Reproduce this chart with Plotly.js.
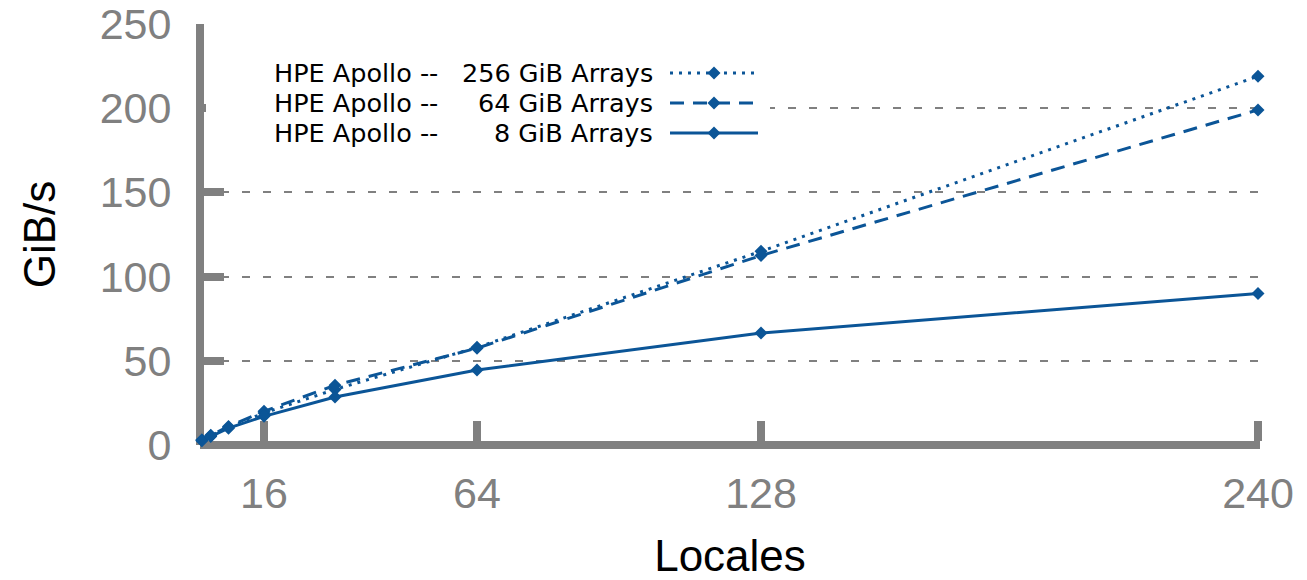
<!DOCTYPE html>
<html><head><meta charset="utf-8">
<script src="https://cdn.plot.ly/plotly-3.0.1.min.js"></script>
<style>html,body{margin:0;padding:0;background:#fff}#chart{width:1307px;height:580px}</style>
</head><body><div id="chart"></div>
<script>
// ---- data ----
const locales = [1, 2, 4, 8, 16, 32, 64, 128, 240];
const gib256 = [1.5, 3, 5.5, 10.5, 19, 33, 58, 115, 219];
const gib64  = [1.5, 3, 5.8, 11, 20, 35.5, 57.5, 112.5, 199];
const gib8   = [1.3, 2.5, 5, 10, 17, 28.5, 44.5, 66.5, 90];
const seriesNames = ['HPE Apollo -- 256 GiB Arrays', 'HPE Apollo --   64 GiB Arrays', 'HPE Apollo --     8 GiB Arrays'];
const legendLeft = ['HPE Apollo --', 'HPE Apollo --', 'HPE Apollo --'];
const legendRight = ['256 GiB Arrays', '64 GiB Arrays', '8 GiB Arrays'];
const xTicks = [16, 64, 128, 240];
const yTicks = [0, 50, 100, 150, 200, 250];
const xTitle = 'Locales';
const yTitle = 'GiB/s';

// ---- styles ----
const blue = '#0b5597';
const gray = '#808080';
const font = 'Liberation Sans, Arial, Helvetica, sans-serif';
const legendFont = 'DejaVu Sans, Liberation Sans, sans-serif';
const dashes = ['3px,6px', '14px,9px', 'solid'];
const values = [gib256, gib64, gib8];

const traces = values.map((v, i) => ({
  x: locales, y: v, name: seriesNames[i], type: 'scatter', mode: 'lines+markers',
  line: {color: blue, width: 3, dash: dashes[i]},
  marker: {symbol: 'diamond', size: 10, color: blue},
  cliponaxis: false, showlegend: false
}));

// legend drawn manually (text left, sample right)
const rowY = [49, 79, 109];   // px below plot top
const shapes = [{
  type: 'rect', xref: 'paper', yref: 'paper', xsizemode: 'pixel', ysizemode: 'pixel',
  xanchor: 0, yanchor: 1, x0: 6, x1: 570, y0: -31, y1: -128,
  fillcolor: '#ffffff', line: {width: 0}, layer: 'above'
}];
const annotations = [];
rowY.forEach((ry, i) => {
  shapes.push({
    type: 'line', xref: 'paper', yref: 'paper', xsizemode: 'pixel', ysizemode: 'pixel',
    xanchor: 0, yanchor: 1, x0: 470, x1: 558, y0: -ry, y1: -ry,
    line: {color: blue, width: 3, dash: dashes[i]}, layer: 'above'
  });
  const cx = 514, cy = -ry, r = 6.5;
  shapes.push({
    type: 'path', xref: 'paper', yref: 'paper', xsizemode: 'pixel', ysizemode: 'pixel',
    xanchor: 0, yanchor: 1,
    path: `M ${cx - r} ${cy} L ${cx} ${cy + r} L ${cx + r} ${cy} L ${cx} ${cy - r} Z`,
    fillcolor: blue, line: {width: 0}, layer: 'above'
  });
  annotations.push({
    xref: 'paper', yref: 'paper', x: 0, y: 1, xshift: 72, yshift: -ry,
    xanchor: 'left', yanchor: 'middle', text: legendLeft[i], showarrow: false,
    font: {family: legendFont, size: 25.5, color: '#000'}
  });
  annotations.push({
    xref: 'paper', yref: 'paper', x: 0, y: 1, xshift: 455, yshift: -ry,
    xanchor: 'right', yanchor: 'middle', text: legendRight[i], showarrow: false,
    font: {family: legendFont, size: 25.5, color: '#000'}
  });
});

const layout = {
  width: 1307, height: 580,
  margin: {l: 200, r: 47, t: 24, b: 135},
  paper_bgcolor: '#fff', plot_bgcolor: '#fff',
  font: {family: font},
  xaxis: {
    range: [1.58, 240.45], tickmode: 'array', tickvals: xTicks, ticktext: xTicks.map(String),
    anchor: 'free', position: 0, layer: 'below traces',
    showgrid: false, zeroline: false, showline: true, linecolor: gray, linewidth: 8,
    ticks: 'inside', ticklen: 20, tickwidth: 8, tickcolor: gray,
    tickfont: {family: font, size: 43, color: gray}, ticklabelstandoff: 7,
    title: {text: xTitle, font: {family: font, size: 44, color: '#000'}, standoff: 37}
  },
  yaxis: {
    range: [0, 250], tickmode: 'array', tickvals: yTicks, ticktext: yTicks.map(String),
    anchor: 'free', position: 0, layer: 'below traces',
    showgrid: true, gridcolor: gray, gridwidth: 2, griddash: '8px,13px',
    zeroline: false, showline: true, linecolor: gray, linewidth: 8,
    ticks: 'inside', ticklen: 20, tickwidth: 8, tickcolor: gray,
    tickfont: {family: font, size: 43, color: gray}, ticklabelstandoff: 16,
    title: {text: yTitle, font: {family: font, size: 44, color: '#000'}, standoff: 29}
  },
  shapes: shapes,
  annotations: annotations
};

Plotly.newPlot('chart', traces, layout, {displayModeBar: false, staticPlot: true});
</script></body></html>
